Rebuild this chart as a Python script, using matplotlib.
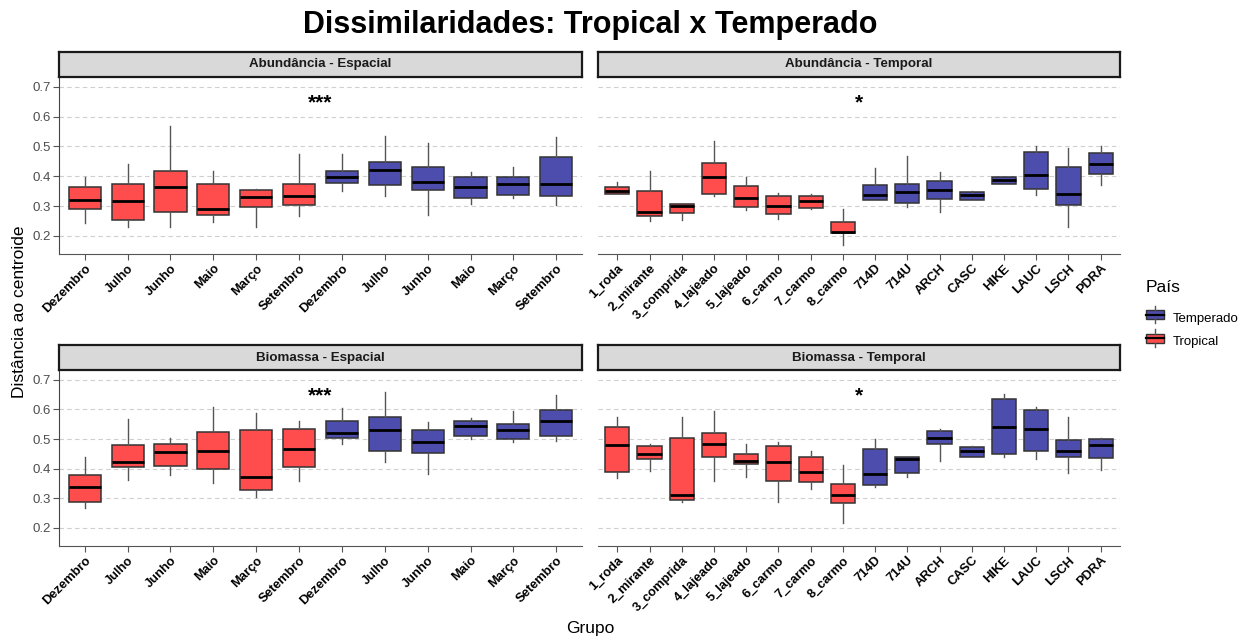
import numpy as np
import matplotlib
matplotlib.use("Agg")
import matplotlib.pyplot as plt
from matplotlib.patches import Rectangle
from matplotlib.lines import Line2D
from matplotlib.legend_handler import HandlerBase

plt.rcParams['font.family'] = ['Liberation Sans', 'DejaVu Sans']

# grupos de cada painel
meses = ['Dezembro', 'Julho', 'Junho', 'Maio', 'Março', 'Setembro',
         'Dezembro', 'Julho', 'Junho', 'Maio', 'Março', 'Setembro']
meses_pais = ['Tropical'] * 6 + ['Temperado'] * 6
sitios = ['1_roda', '2_mirante', '3_comprida', '4_lajeado', '5_lajeado', '6_carmo',
          '7_carmo', '8_carmo', '714D', '714U', 'ARCH', 'CASC', 'HIKE', 'LAUC',
          'LSCH', 'PDRA']
sitios_pais = ['Tropical'] * 8 + ['Temperado'] * 8

# (bigode inf, q1, mediana, q3, bigode sup)
ab_espacial = [
    (0.242, 0.289, 0.321, 0.363, 0.399),
    (0.231, 0.254, 0.317, 0.374, 0.441),
    (0.231, 0.281, 0.365, 0.417, 0.568),
    (0.245, 0.270, 0.289, 0.374, 0.419),
    (0.228, 0.298, 0.329, 0.354, 0.356),
    (0.265, 0.304, 0.332, 0.374, 0.475),
    (0.352, 0.376, 0.399, 0.418, 0.475),
    (0.334, 0.371, 0.420, 0.448, 0.536),
    (0.269, 0.354, 0.379, 0.432, 0.510),
    (0.307, 0.327, 0.365, 0.399, 0.415),
    (0.327, 0.337, 0.373, 0.399, 0.430),
    (0.305, 0.332, 0.373, 0.463, 0.533),
]
ab_temporal = [
    (0.340, 0.341, 0.352, 0.363, 0.379),
    (0.250, 0.267, 0.281, 0.352, 0.419),
    (0.254, 0.276, 0.300, 0.307, 0.307),
    (0.332, 0.341, 0.399, 0.444, 0.518),
    (0.285, 0.297, 0.327, 0.367, 0.396),
    (0.257, 0.273, 0.300, 0.335, 0.343),
    (0.289, 0.294, 0.318, 0.332, 0.341),
    (0.168, 0.209, 0.214, 0.248, 0.289),
    (0.320, 0.321, 0.337, 0.371, 0.427),
    (0.296, 0.309, 0.348, 0.374, 0.468),
    (0.280, 0.325, 0.354, 0.384, 0.413),
    (0.319, 0.319, 0.337, 0.347, 0.352),
    (0.374, 0.374, 0.388, 0.396, 0.399),
    (0.337, 0.358, 0.404, 0.481, 0.501),
    (0.231, 0.304, 0.342, 0.430, 0.496),
    (0.371, 0.409, 0.441, 0.478, 0.501),
]
bio_espacial = [
    (0.266, 0.287, 0.338, 0.378, 0.438),
    (0.362, 0.407, 0.423, 0.480, 0.567),
    (0.380, 0.409, 0.457, 0.484, 0.504),
    (0.353, 0.398, 0.460, 0.523, 0.607),
    (0.304, 0.327, 0.371, 0.529, 0.587),
    (0.360, 0.404, 0.468, 0.534, 0.562),
    (0.484, 0.504, 0.522, 0.560, 0.604),
    (0.423, 0.458, 0.529, 0.576, 0.660),
    (0.382, 0.454, 0.491, 0.529, 0.559),
    (0.499, 0.511, 0.544, 0.560, 0.571),
    (0.489, 0.501, 0.531, 0.551, 0.596),
    (0.492, 0.511, 0.560, 0.598, 0.649),
]
bio_temporal = [
    (0.369, 0.389, 0.479, 0.542, 0.573),
    (0.393, 0.434, 0.451, 0.478, 0.482),
    (0.287, 0.293, 0.311, 0.504, 0.573),
    (0.357, 0.440, 0.482, 0.520, 0.593),
    (0.373, 0.416, 0.426, 0.450, 0.484),
    (0.287, 0.360, 0.421, 0.478, 0.490),
    (0.331, 0.354, 0.388, 0.440, 0.460),
    (0.218, 0.283, 0.311, 0.348, 0.411),
    (0.338, 0.344, 0.381, 0.467, 0.501),
    (0.373, 0.384, 0.433, 0.438, 0.438),
    (0.427, 0.484, 0.504, 0.527, 0.533),
    (0.439, 0.439, 0.460, 0.473, 0.477),
    (0.440, 0.449, 0.540, 0.636, 0.653),
    (0.431, 0.458, 0.534, 0.598, 0.609),
    (0.387, 0.438, 0.458, 0.498, 0.576),
    (0.396, 0.437, 0.481, 0.499, 0.502),
]

paineis = [
    ('Abundância - Espacial', meses, meses_pais, ab_espacial, '***'),
    ('Abundância - Temporal', sitios, sitios_pais, ab_temporal, '*'),
    ('Biomassa - Espacial', meses, meses_pais, bio_espacial, '***'),
    ('Biomassa - Temporal', sitios, sitios_pais, bio_temporal, '*'),
]

cores = {'Tropical': '#FF4D4D', 'Temperado': '#4D4DAE'}
borda = '#333333'

W, H = 1247, 640
fig = plt.figure(figsize=(W / 100, H / 100), dpi=100)

# posicoes dos paineis em pixels: (esquerda, direita, topo, base)
caixas = [(59, 582, 77, 254), (598, 1120, 77, 254),
          (59, 582, 370, 546), (598, 1120, 370, 546)]
strip_h = 25


def px_axes(x0, x1, y0, y1):
    return fig.add_axes([x0 / W, 1 - y1 / H, (x1 - x0) / W, (y1 - y0) / H])


for i, (titulo, grupos, pais, stats, sig) in enumerate(paineis):
    x0, x1, y0, y1 = caixas[i]
    ax = px_axes(x0, x1, y0, y1)
    st = [dict(whislo=s[0], q1=s[1], med=s[2], q3=s[3], whishi=s[4], fliers=[])
          for s in stats]
    pos = np.arange(1, len(grupos) + 1)
    bp = ax.bxp(st, positions=pos, widths=0.75, patch_artist=True,
                showcaps=False, showfliers=False,
                boxprops=dict(edgecolor=borda, linewidth=1.1),
                whiskerprops=dict(color='#555555', linewidth=1.0),
                medianprops=dict(color='black', linewidth=2.0))
    for b, p in zip(bp['boxes'], pais):
        b.set_facecolor(cores[p])
    ax.set_xlim(0.4, len(grupos) + 0.6)
    ax.set_ylim(0.139, 0.733)
    ax.set_yticks([0.2, 0.3, 0.4, 0.5, 0.6, 0.7])
    ax.yaxis.grid(True, linestyle=(0, (4, 3)), color='#CFCFCF', linewidth=0.8)
    ax.set_axisbelow(True)
    ax.set_xticks(pos)
    ax.set_xticklabels(grupos, rotation=45, ha='right', rotation_mode='anchor',
                       fontsize=9.3, fontweight='bold', color='black')
    ax.tick_params(axis='x', length=4, color='#555555', pad=2)
    for s in ['top', 'right']:
        ax.spines[s].set_visible(False)
    ax.spines['bottom'].set_color('#555555')
    ax.spines['left'].set_color('#444444')
    if i % 2 == 0:
        ax.set_yticklabels(['0.2', '0.3', '0.4', '0.5', '0.6', '0.7'])
        ax.tick_params(axis='y', labelsize=9.5, labelcolor='#4D4D4D',
                       color='#555555', length=4, pad=2)
    else:
        ax.spines['left'].set_visible(False)
        ax.tick_params(axis='y', left=False, labelleft=False)
    ax.text((len(grupos) + 1) / 2, 0.645, sig, ha='center', va='center',
            fontsize=15, fontweight='bold')

    sx = px_axes(x0, x1, y0 - strip_h, y0)
    sx.set_facecolor('#D9D9D9')
    sx.set_xticks([])
    sx.set_yticks([])
    for s in sx.spines.values():
        s.set_linewidth(1.6)
        s.set_color('#1A1A1A')
    sx.text(0.5, 0.5, titulo, ha='center', va='center', fontsize=9.6,
            fontweight='bold', color='#1A1A1A', transform=sx.transAxes)

fig.text(590 / W, 1 - 25 / H, 'Dissimilaridades: Tropical x Temperado',
         ha='center', va='center', fontsize=22, fontweight='bold',
         family=['Liberation Sans Narrow', 'Liberation Sans'])
fig.text(20 / W, 1 - 312 / H, 'Distância ao centroide', rotation=90,
         ha='center', va='center', fontsize=12.5)
fig.text(590 / W, 1 - 629 / H, 'Grupo', ha='center', va='center', fontsize=12.5)


class HandlerCaixa(HandlerBase):
    def create_artists(self, legend, orig, xd, yd, w, h, fontsize, trans):
        cx = xd + w / 2
        r = Rectangle((xd, yd + 1), w, h - 2, facecolor=orig.get_facecolor(),
                      edgecolor=borda, linewidth=1.0, transform=trans)
        med = Line2D([xd, xd + w], [yd + h / 2] * 2, color='black',
                     linewidth=1.6, transform=trans)
        wt = Line2D([cx, cx], [yd + h - 1, yd + h + 2], color='#555555',
                    linewidth=1.0, transform=trans)
        wb = Line2D([cx, cx], [yd - 2, yd + 1], color='#555555',
                    linewidth=1.0, transform=trans)
        return [r, med, wt, wb]


handles = [Rectangle((0, 0), 1, 1, facecolor=cores['Temperado']),
           Rectangle((0, 0), 1, 1, facecolor=cores['Tropical'])]
leg = fig.legend(handles, ['Temperado', 'Tropical'], title='País',
                 loc='upper left', bbox_to_anchor=(1146 / W, 1 - 280 / H),
                 frameon=False, fontsize=9.5, title_fontsize=12.5,
                 borderpad=0, borderaxespad=0,
                 handler_map={Rectangle: HandlerCaixa()},
                 handlelength=1.4, handleheight=1.0, handletextpad=0.6,
                 labelspacing=0.75)
leg._legend_box.align = 'left'
leg._legend_box.sep = 12

fig.savefig('out.png', dpi=100)
